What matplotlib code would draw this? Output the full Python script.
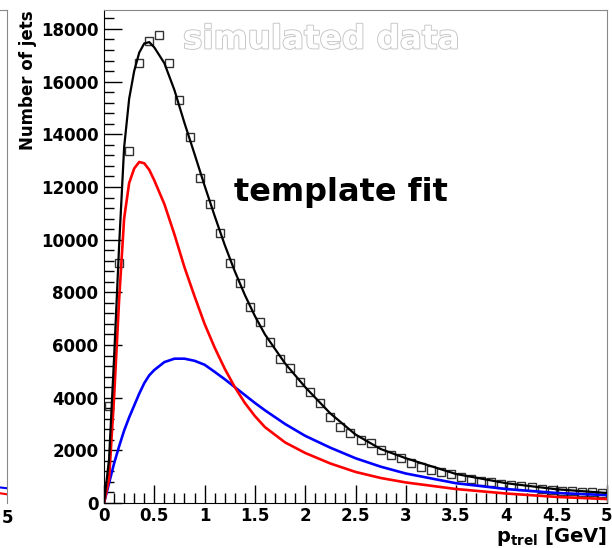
import matplotlib
matplotlib.use("Agg")
import matplotlib.pyplot as plt
import matplotlib.patheffects as pe
from matplotlib.ticker import MultipleLocator, FixedLocator

# ---- data ----
bin_centers = [0.05, 0.15, 0.25, 0.35, 0.45, 0.55, 0.65, 0.75, 0.85, 0.95,
               1.05, 1.15, 1.25, 1.35, 1.45, 1.55, 1.65, 1.75, 1.85, 1.95,
               2.05, 2.15, 2.25, 2.35, 2.45, 2.55, 2.65, 2.75, 2.85, 2.95,
               3.05, 3.15, 3.25, 3.35, 3.45, 3.55, 3.65, 3.75, 3.85, 3.95,
               4.05, 4.15, 4.25, 4.35, 4.45, 4.55, 4.65, 4.75, 4.85, 4.95]
sim_counts = [3700, 9100, 13350, 16690, 17540, 17770, 16690, 15320, 13880, 12350,
              11370, 10270, 9130, 8370, 7450, 6880, 6120, 5480, 5130, 4600,
              4220, 3800, 3270, 2890, 2660, 2400, 2280, 2015, 1825, 1710,
              1520, 1370, 1255, 1180, 1100, 1000, 930, 850, 790, 720,
              680, 630, 590, 540, 500, 470, 450, 420, 400, 370]

curve_x = [0, 0.05, 0.1, 0.15, 0.2, 0.25, 0.3, 0.35, 0.4, 0.45, 0.5, 0.6, 0.7,
           0.8, 0.9, 1.0, 1.1, 1.2, 1.3, 1.4, 1.5, 1.6, 1.8, 2.0, 2.25, 2.5,
           2.75, 3.0, 3.5, 4.0, 4.5, 5.0]
red_template = [0, 900, 4000, 7700, 10800, 12150, 12700, 12950, 12900, 12650,
                12250, 11350, 10200, 8950, 7850, 6800, 5900, 5100, 4400, 3800,
                3300, 2880, 2300, 1900, 1500, 1180, 950, 780, 530, 360, 230, 150]
blue_template = [0, 750, 1500, 2150, 2750, 3250, 3700, 4150, 4550, 4850,
                 5050, 5350, 5480, 5480, 5400, 5250, 4980, 4700, 4400, 4100,
                 3800, 3520, 3000, 2550, 2100, 1700, 1380, 1120, 750, 530, 380, 300]
fit_total = [0, 1650, 5500, 9750, 13500, 15350, 16400, 17100, 17450, 17500,
             17300, 16700, 15680, 14430, 13250, 12050, 10900, 9800, 8800, 7900,
             7100, 6400, 5300, 4400, 3400, 2600, 2050, 1700, 1100, 750, 520, 380]

# fragment of the neighbouring panel (only its right edge is visible)
left_x = [4.0, 4.5, 5.0]
left_blue = [800, 650, 560]
left_red = [600, 450, 330]

x_ticks = [0, 0.5, 1, 1.5, 2, 2.5, 3, 3.5, 4, 4.5, 5]
x_ticklabels = ["0", "0.5", "1", "1.5", "2", "2.5", "3", "3.5", "4", "4.5", "5"]
y_ticks = [0, 2000, 4000, 6000, 8000, 10000, 12000, 14000, 16000, 18000]

W, H = 612, 548
fig = plt.figure(figsize=(W / 100, H / 100), dpi=100)
plt.rcParams['font.family'] = ['DejaVu Sans']

def px(x0, y0, x1, y1):
    return [x0 / W, 1 - y1 / H, (x1 - x0) / W, (y1 - y0) / H]

ymax = 18720

# ---- fragment panel on the far left ----
axl = fig.add_axes(px(-200, 10, 7, 503))
axl.set_xlim(0, 5)
axl.set_ylim(0, ymax)
axl.plot(left_x, left_blue, color='blue', lw=1.5)
axl.plot(left_x, left_red, color='red', lw=1.5)
for s in ['left', 'bottom']:
    axl.spines[s].set_visible(False)
for s in ['top', 'right']:
    axl.spines[s].set_color('#888888')
axl.set_xticks([5])
axl.set_xticklabels(["5"], fontsize=12, fontweight='bold')
axl.tick_params(axis='x', length=0, pad=4)
axl.set_yticks([])

# ---- main panel ----
ax = fig.add_axes(px(104, 10, 607, 503))
ax.set_xlim(0, 5)
ax.set_ylim(0, ymax)

ax.plot(bin_centers, sim_counts, linestyle='none', marker='s', markersize=6.3,
        markerfacecolor='none', markeredgecolor='#333333', markeredgewidth=1.0,
        zorder=2)
ax.plot(curve_x, blue_template, color='#0000ff', lw=1.9, zorder=3)
ax.plot(curve_x, red_template, color='#ff0000', lw=1.9, zorder=3)
ax.plot(curve_x, fit_total, color='black', lw=1.6, zorder=4)

ax.xaxis.set_major_locator(FixedLocator(x_ticks))
ax.set_xticklabels(x_ticklabels)
ax.xaxis.set_minor_locator(MultipleLocator(0.1))
ax.yaxis.set_major_locator(FixedLocator(y_ticks))
ax.yaxis.set_minor_locator(MultipleLocator(400))
ax.tick_params(which='major', direction='in', length=13, width=1, color='black')
ax.tick_params(which='minor', direction='in', length=7, width=1, color='black')
ax.tick_params(axis='x', which='both', top=False, pad=3)
ax.tick_params(axis='y', which='both', right=False, pad=4)
for lab in ax.get_xticklabels() + ax.get_yticklabels():
    lab.set_fontsize(12)
    lab.set_fontweight('bold')
ax.spines['left'].set_color('black')
ax.spines['bottom'].set_color('black')
ax.spines['top'].set_color('#888888')
ax.spines['right'].set_color('#888888')

fig.text(28 / W, 1 - 10 / H, "Number of jets", rotation=90, ha='center',
         va='top', fontsize=12, fontweight='bold')

fig.text(607 / W, 1 - 542 / H,
         r"$\mathbf{p}_{\mathbf{trel}}$ [GeV]", ha='right', va='baseline',
         fontsize=14, fontweight='bold')

fig.text(234 / W, 1 - 193 / H, "template fit", ha='left', va='center',
         fontsize=23, fontweight='bold', color='black')

t = fig.text(183 / W, 1 - 39 / H, "simulated data", ha='left', va='center',
             fontsize=23.5, fontweight='bold', color='white')
t.set_path_effects([pe.withStroke(linewidth=1.3, foreground='#c4c4c4')])

fig.savefig("out.png", dpi=100)
